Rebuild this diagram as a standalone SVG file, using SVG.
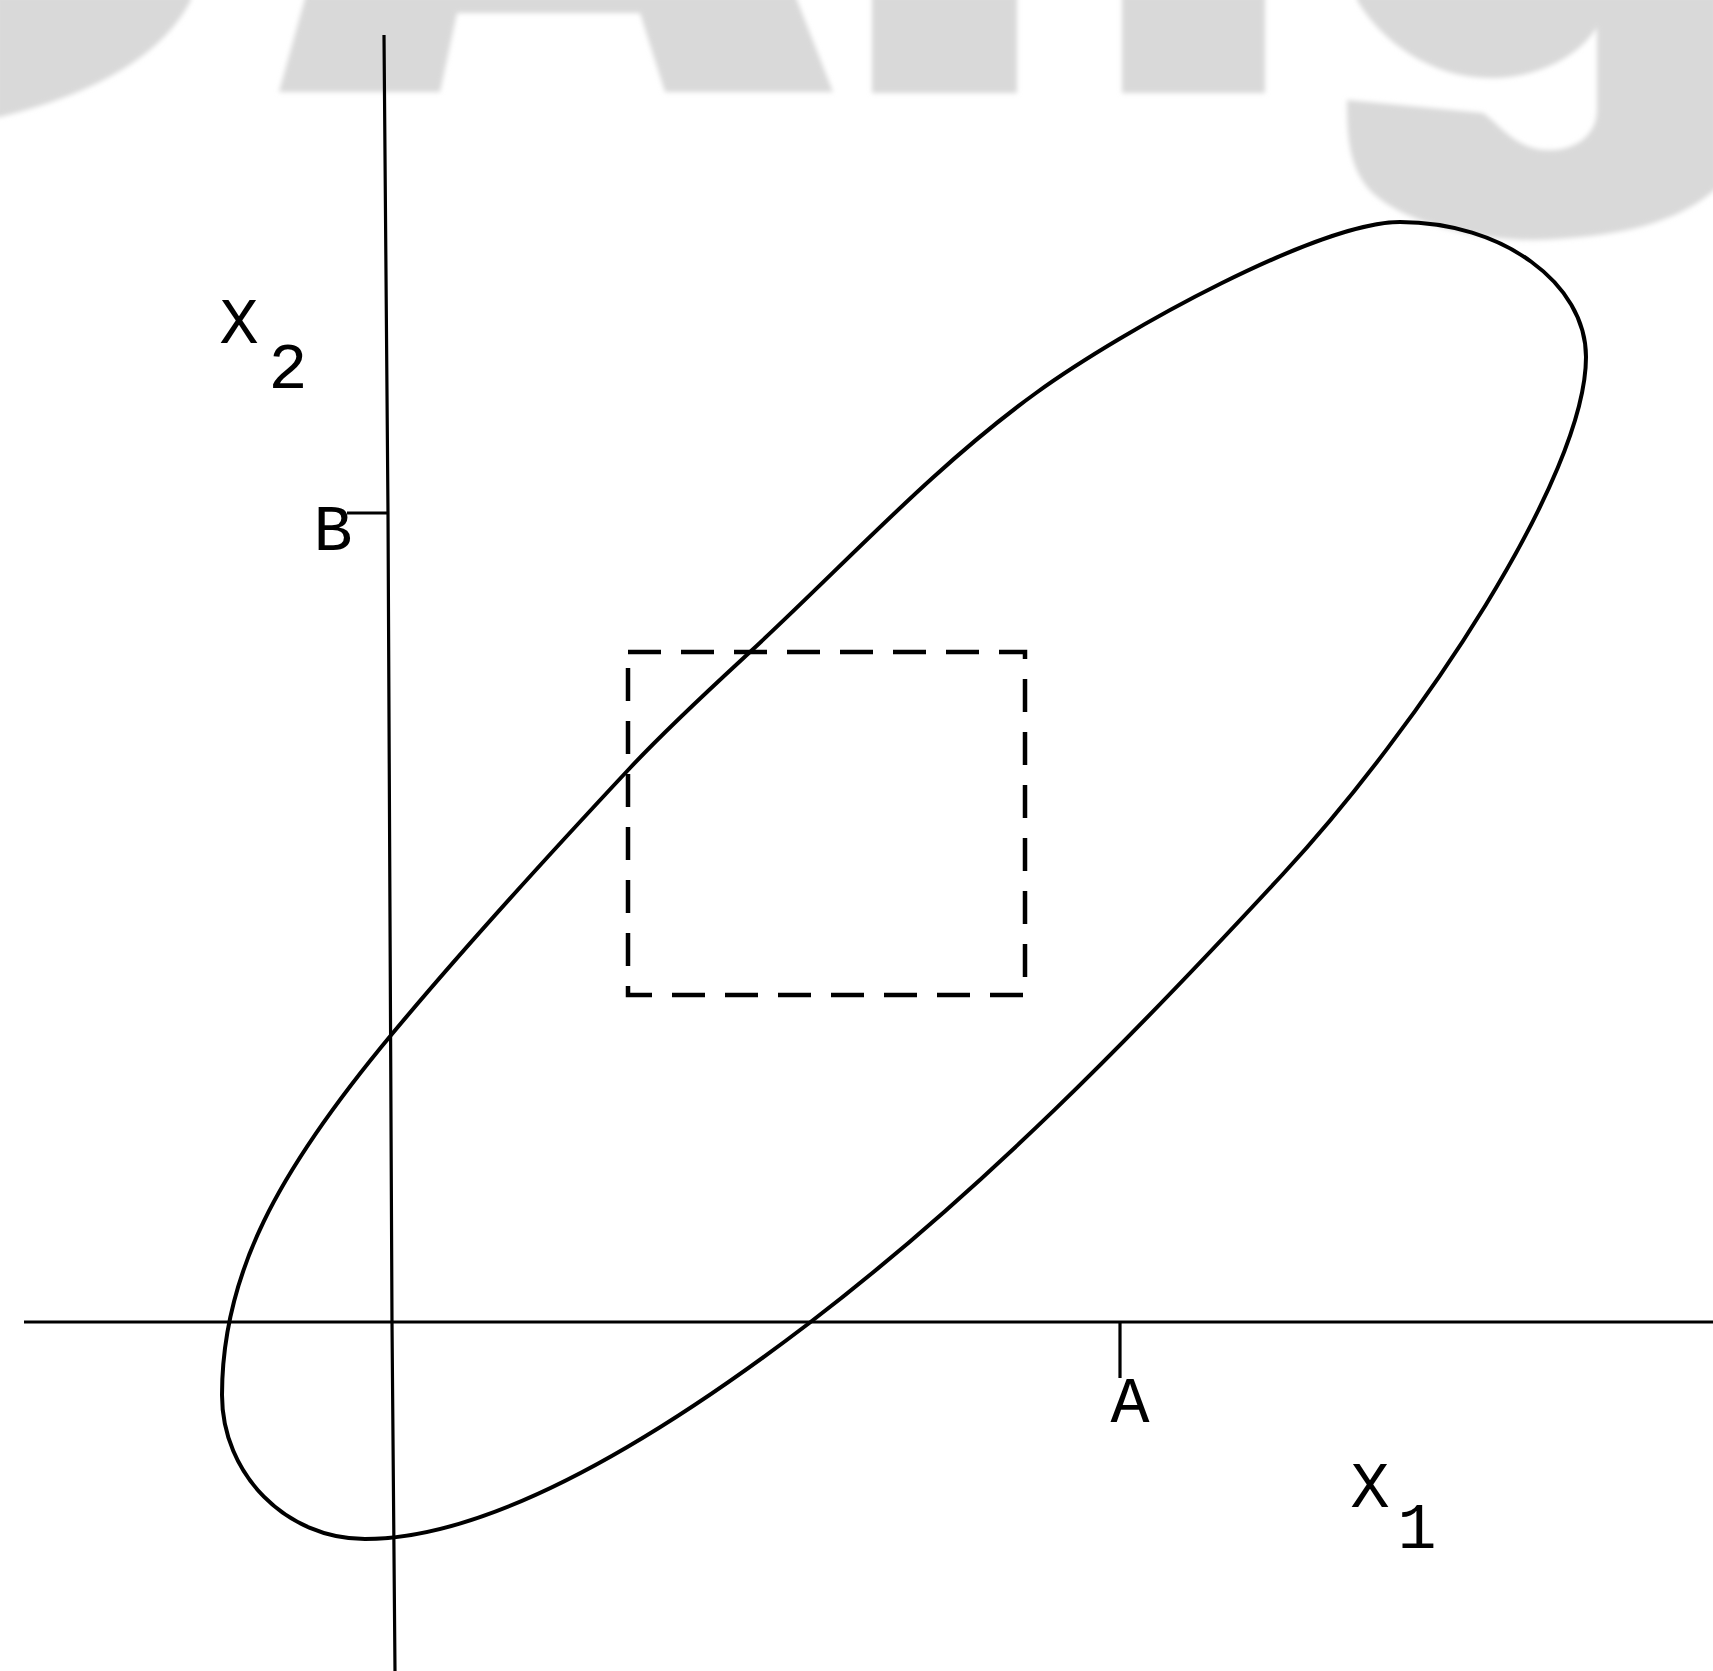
<svg xmlns="http://www.w3.org/2000/svg" width="1713" height="1671" viewBox="0 0 1713 1671">
  <defs>
    <filter id="soft" x="-5%" y="-20%" width="110%" height="140%">
      <feGaussianBlur stdDeviation="2.5"/>
    </filter>
    <style>
      .wm { fill: #d9d9d9; stroke: none; }
      .axis { fill: none; stroke: #000; stroke-width: 3.2; stroke-linecap: butt; }
      .curve { fill: none; stroke: #000; stroke-width: 4; stroke-linejoin: round; }
      .dash { fill: none; stroke: #000; stroke-width: 4.5; stroke-dasharray: 33 20; }
      .lbl { font-family: "Liberation Mono", "DejaVu Sans Mono", monospace; font-size: 65px; fill: #000; text-anchor: middle; }
    </style>
  </defs>
  <rect x="0" y="0" width="1713" height="1671" fill="#fff"/>

  <g id="watermark" filter="url(#soft)">
    <path class="wm" d="M-5,-5 L191,-5 L191,0 Q150,80 0,117 L-5,117 Z"/>
    <path class="wm" d="M306,-5 L795,-5 L833,92 L665,92 L640,13 L457,13 L440,92 L279,92 Z"/>
    <rect class="wm" x="872" y="-5" width="145" height="98"/>
    <rect class="wm" x="1122" y="-5" width="143" height="98"/>
    <path class="wm" d="M1357,-5 L1718,-5 L1718,187 C1680,222 1620,238 1533,240 C1460,240 1390,215 1367,187 C1350,165 1347,140 1347,100 L1483,113 C1500,125 1515,148 1545,150 C1575,152 1597,135 1597,110 L1597,27 C1580,55 1540,78 1490,78 C1430,78 1380,40 1357,0 Z"/>
  </g>

  <g id="connectors">
    <polyline id="axis-x2" class="axis" points="384,35 388,513 392,1322 395,1671"/>
    <line id="axis-x1" class="axis" x1="24" y1="1322" x2="1713" y2="1322"/>
    <line id="tick-b" class="axis" x1="347" y1="513" x2="388" y2="513"/>
    <line id="tick-a" class="axis" x1="1120" y1="1322" x2="1120" y2="1378"/>
  </g>

  <g id="ellipse">
    <path class="curve" d="M1400,222 C1502,222 1586,283 1586,357 C1586,477 1418.8,727.2 1283,874 C1135,1034 981.3,1191.7 808,1324 C665,1433 495,1539 365,1539 C286,1539 222,1474 222,1395 C222,1275 276.8,1172.2 392,1034 C468.2,942.6 548.7,854.9 630,768 C668.2,727.1 708.8,690 750,652 C844,565.2 932.3,468 1036,393 C1125.1,328.5 1320,222 1400,222 Z"/>
  </g>

  <g id="box">
    <rect class="dash" x="628" y="652" width="397" height="343"/>
  </g>

  <g id="label-x2">
    <text class="lbl" x="239" y="343">X</text>
    <text class="lbl" x="288" y="388">2</text>
  </g>
  <g id="label-b">
    <text class="lbl" x="333" y="550">B</text>
  </g>
  <g id="label-a">
    <text class="lbl" x="1130" y="1422">A</text>
  </g>
  <g id="label-x1">
    <text class="lbl" x="1370" y="1507">X</text>
    <text class="lbl" x="1417" y="1548">1</text>
  </g>
</svg>
